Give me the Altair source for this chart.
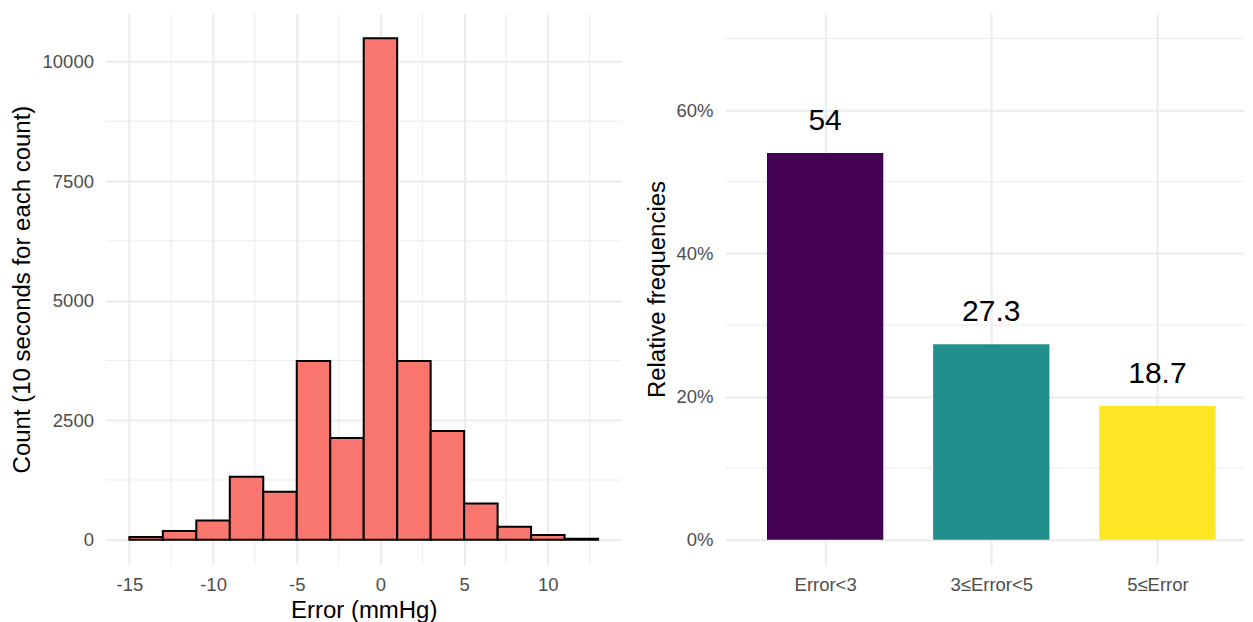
import altair as alt
import pandas as pd

# ---------------- data ----------------
bin_starts = [-15, -13, -11, -9, -7, -5, -3, -1, 1, 3, 5, 7, 9, 11]
counts = [56, 181, 403, 1315, 1002, 3737, 2130, 10486, 3737, 2276, 758, 271, 98, 21]
bin_width = 2

x_ticks = [-15, -10, -5, 0, 5, 10]
x_minor = [-12.5, -7.5, -2.5, 2.5, 7.5, 12.5]
y_ticks = [0, 2500, 5000, 7500, 10000]
y_minor = [1250, 3750, 6250, 8750]

categories = ["Error<3", "3≤Error<5", "5≤Error"]
rel_freq = [0.54, 0.273, 0.187]
freq_labels = ["54", "27.3", "18.7"]
bar_colors = ["#440154", "#21908C", "#FDE725"]
pct_ticks = [0, 0.2, 0.4, 0.6]
pct_minor = [0.1, 0.3, 0.5, 0.7]

FONT = "Liberation Sans"
GRID = "#EBEBEB"
LABEL = "#4D4D4D"

# ---------------- left: histogram ----------------
hist_df = pd.DataFrame({"start": bin_starts, "count": counts})
hist_df["end"] = hist_df["start"] + bin_width

xs_left = alt.Scale(domain=[-16.4, 14.4], nice=False, zero=False)
ys_left = alt.Scale(domain=[-524, 11010], nice=False, zero=False)

x_axis_left = alt.Axis(values=x_ticks, labelExpr="'' + datum.value",
                       grid=True, gridColor=GRID, gridWidth=2,
                       labelPadding=11, title="Error (mmHg)",
                       titleBaseline="alphabetic", titleY=53)
y_axis_left = alt.Axis(values=y_ticks, labelExpr="'' + datum.value",
                       grid=True, gridColor=GRID, gridWidth=2,
                       labelPadding=12.5, title="Count (10 seconds for each count)",
                       titleBaseline="alphabetic", titleX=-76.4)

minor_v_left = alt.Chart(pd.DataFrame({"v": x_minor})).mark_rule(
    color=GRID, strokeWidth=1).encode(
    x=alt.X("v:Q", scale=xs_left, axis=x_axis_left))
minor_h_left = alt.Chart(pd.DataFrame({"v": y_minor})).mark_rule(
    color=GRID, strokeWidth=1).encode(
    y=alt.Y("v:Q", scale=ys_left, axis=y_axis_left))

hist = alt.Chart(hist_df).mark_bar(
    color="#F8766D", stroke="black", strokeWidth=2, opacity=1).encode(
    x=alt.X("start:Q", scale=xs_left, axis=x_axis_left),
    x2="end:Q",
    y=alt.Y("count:Q", scale=ys_left, axis=y_axis_left),
    y2=alt.datum(0),
)

left = alt.layer(minor_v_left, minor_h_left, hist).properties(width=516, height=552)

# ---------------- right: bar chart ----------------
bar_df = pd.DataFrame({"cat": categories, "freq": rel_freq, "label": freq_labels})
bar_df["pos"] = range(1, len(categories) + 1)
bar_df["x0"] = bar_df["pos"] - 0.35
bar_df["x1"] = bar_df["pos"] + 0.35

label_expr = " : ".join(
    [f"datum.value == {i + 1} ? '{c}'" for i, c in enumerate(categories)]) + " : ''"

xs_right = alt.Scale(domain=[0.4, 3.521], nice=False, zero=False)
ys_right = alt.Scale(domain=[-0.0349, 0.7353], nice=False, zero=False)

x_axis_right = alt.Axis(values=[1, 2, 3], labelExpr=label_expr, grid=True,
                        gridColor=GRID, gridWidth=2, labelPadding=11, title=None)
y_axis_right = alt.Axis(values=pct_ticks, format=".0%", grid=True, gridColor=GRID,
                        gridWidth=2, labelPadding=12.5, title="Relative frequencies",
                        titleBaseline="alphabetic", titleX=-61.4)

minor_h_right = alt.Chart(pd.DataFrame({"v": pct_minor})).mark_rule(
    color=GRID, strokeWidth=1).encode(
    y=alt.Y("v:Q", scale=ys_right, axis=y_axis_right))

bars = alt.Chart(bar_df).mark_bar(opacity=1).encode(
    x=alt.X("x0:Q", scale=xs_right, axis=x_axis_right),
    x2="x1:Q",
    y=alt.Y("freq:Q", scale=ys_right, axis=y_axis_right),
    y2=alt.datum(0),
    color=alt.Color("cat:N", scale=alt.Scale(domain=categories, range=bar_colors),
                    legend=None),
)

texts = alt.Chart(bar_df).mark_text(
    font=FONT, fontSize=30, color="black", baseline="alphabetic", dy=-23).encode(
    x=alt.X("pos:Q", scale=xs_right, axis=x_axis_right),
    y=alt.Y("freq:Q", scale=ys_right, axis=y_axis_right),
    text="label:N",
)

right = alt.layer(minor_h_right, bars, texts).properties(width=519, height=552)

chart = alt.hconcat(left, right, spacing=22).properties(
    padding={"left": 2, "top": 4, "right": 0, "bottom": 0}
).configure_view(stroke=None).configure_axis(
    domain=False, ticks=False, tickSize=0,
    labelFont=FONT, labelFontSize=18.5, labelColor=LABEL,
    titleFont=FONT, titleFontSize=24, titleColor="black", titleFontWeight="normal",
)

chart.save("out.html", embed_options={"renderer": "svg", "actions": False})
